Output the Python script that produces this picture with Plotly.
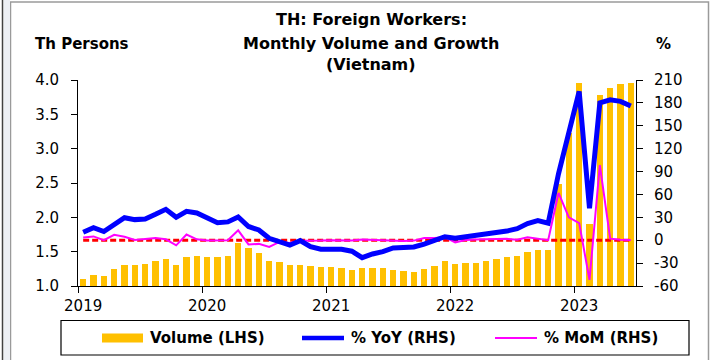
import plotly.graph_objects as go

# Monthly series, Jan 2019 - Jun 2023
months = [f"{y}-{m:02d}" for y in range(2019, 2024) for m in range(1, 13)][:54]

volume = [1.10, 1.16, 1.15, 1.25, 1.31, 1.30, 1.32, 1.37, 1.39, 1.31, 1.42, 1.44,
          1.42, 1.42, 1.44, 1.63, 1.55, 1.48, 1.37, 1.35, 1.31, 1.30, 1.29, 1.27,
          1.27, 1.26, 1.24, 1.26, 1.26, 1.26, 1.24, 1.22, 1.20, 1.25, 1.29, 1.37,
          1.32, 1.33, 1.34, 1.36, 1.39, 1.42, 1.44, 1.50, 1.52, 1.52, 2.48, 3.23,
          3.96, 1.90, 3.78, 3.89, 3.94, 3.95]

yoy = [10.5, 16.4, 11.4, 20.8, 29.5, 27.0, 27.8, 33.9, 40.5, 30.0, 37.9, 35.7,
       29.5, 23.0, 24.0, 30.5, 18.0, 13.4, 2.5, -2.6, -6.5, -0.5, -8.5, -11.8,
       -11.3, -11.8, -14.4, -22.9, -18.0, -15.0, -10.2, -9.8, -8.9, -5.0, -1.0, 4.6,
       2.5, 4.2, 6.8, 7.7, 9.4, 12.0, 15.2, 21.8, 25.6, 22.3, 87.0, 139.0,
       195.0, 42.0, 180.0, 184.0, 182.0, 176.0]

mom = [3.5, 5.0, 0.0, 7.0, 4.6, 0.3, 1.6, 2.9, 1.2, -6.7, 7.5, 1.2,
       -0.5, -0.5, 0.0, 13.0, -5.5, -4.8, -8.7, -2.2, -3.5, -0.8, -1.0, -0.5,
       0.0, -0.5, -0.5, 1.0, 0.3, 0.3, -1.0, -1.0, -0.5, 2.8, 2.8, 4.0,
       -2.8, 0.3, 0.8, 1.5, 1.6, 1.8, 0.5, 4.0, 2.2, 0.0, 62.0, 30.0,
       22.5, -52.0, 98.5, 2.0, 0.7, 0.3]

year_labels = ["2019", "2020", "2021", "2022", "2023"]
lhs_ticks = [1.0, 1.5, 2.0, 2.5, 3.0, 3.5, 4.0]
rhs_ticks = [-60, -30, 0, 30, 60, 90, 120, 150, 180, 210]

x = list(range(len(months)))
year_pos = [months.index(f"{y}-01") for y in year_labels]
year_bounds = [p - 0.5 for p in year_pos]

# plot-area geometry in pixels (used to place paper-referenced decorations)
W, H = 712, 360
L, R, T, B = 78, 76, 80, 74
PW, PH = W - L - R, H - T - B


def px(xp):
    return (xp - L) / PW


def py(yp):
    return (H - B - yp) / PH


GOLD = "#FFC000"
BLUE = "#0000FF"
MAGENTA = "#FF00FF"
RED = "#FF0000"
FONT = "DejaVu Sans"

fig = go.Figure()
fig.add_trace(go.Bar(x=x, y=volume, marker=dict(color=GOLD, line=dict(width=0)),
                     width=0.62, name="Volume (LHS)", yaxis="y"))
fig.add_trace(go.Scatter(x=[x[0], x[-1]], y=[0, 0], mode="lines", yaxis="y2",
                         line=dict(color=RED, width=3, dash="6px,3px"),
                         hoverinfo="skip", showlegend=False))
fig.add_trace(go.Scatter(x=x, y=mom, mode="lines", yaxis="y2", name="% MoM (RHS)",
                         line=dict(color=MAGENTA, width=2)))
fig.add_trace(go.Scatter(x=x, y=yoy, mode="lines", yaxis="y2", name="% YoY (RHS)",
                         line=dict(color=BLUE, width=5)))

axis_common = dict(showgrid=False, zeroline=False, showline=True, linecolor="#000000",
                   linewidth=1, tickcolor="#000000",
                   tickfont=dict(family=FONT, size=15, color="#000000"))

fig.update_layout(
    width=W, height=H,
    margin=dict(l=L, r=R, t=T, b=B, pad=0),
    paper_bgcolor="white", plot_bgcolor="white",
    showlegend=False, bargap=0,
    xaxis=dict(range=[-0.5, len(months) - 0.5], tickmode="array", tickvals=year_pos,
               ticktext=year_labels, ticks="", ticklabelstandoff=6,
               minor=dict(tickmode="array", tickvals=year_bounds, ticks="outside",
                          ticklen=6, tickcolor="#000000"),
               **axis_common),
    yaxis=dict(range=[1.0, 4.0], tickmode="array", tickvals=lhs_ticks,
               ticktext=[f"{v:.1f}" for v in lhs_ticks], ticks="outside", ticklen=6,
               ticklabelstandoff=9, **axis_common),
    yaxis2=dict(range=[-60, 210], overlaying="y", side="right", tickmode="array",
                tickvals=rhs_ticks, ticktext=[str(v) for v in rhs_ticks],
                ticks="outside", ticklen=6, ticklabelstandoff=8, **axis_common),
)

bold = dict(family=FONT, color="#000000", weight="bold")
ann = []
title_lines = [("TH: Foreign Workers:", 20), ("Monthly Volume and Growth", 43),
               ("(Vietnam)", 64)]
for text, yc in title_lines:
    ann.append(dict(text=text, x=px(371), y=py(yc), xref="paper", yref="paper",
                    xanchor="center", yanchor="middle", showarrow=False,
                    font=dict(size=16, **bold)))
ann.append(dict(text="Th Persons", x=px(81.5), y=py(44), xref="paper", yref="paper",
                xanchor="center", yanchor="middle", showarrow=False,
                font=dict(size=15, **bold)))
ann.append(dict(text="%", x=px(663.5), y=py(44), xref="paper", yref="paper",
                xanchor="center", yanchor="middle", showarrow=False,
                font=dict(size=15, **bold)))

# legend drawn as a framed row of swatches and labels
legend_items = [("Volume (LHS)", GOLD, "box", 102, 148),
                ("% YoY (RHS)", BLUE, 4.5, 302, 349),
                ("% MoM (RHS)", MAGENTA, 2, 495, 542)]
shapes = [dict(type="rect", xref="paper", yref="paper", x0=px(61), x1=px(689),
               y0=py(320.5), y1=py(355), line=dict(color="#000000", width=1.2),
               fillcolor="rgba(0,0,0,0)")]
leg_y = 338
for label, color, style, sx, tx in legend_items:
    if style == "box":
        shapes.append(dict(type="rect", xref="paper", yref="paper", x0=px(sx),
                           x1=px(sx + 41), y0=py(333.5), y1=py(342.5),
                           fillcolor=color, line=dict(width=0)))
    else:
        shapes.append(dict(type="line", xref="paper", yref="paper", x0=px(sx),
                           x1=px(sx + 42), y0=py(leg_y), y1=py(leg_y),
                           line=dict(color=color, width=style)))
    ann.append(dict(text=label, x=px(tx), y=py(leg_y), xref="paper", yref="paper",
                    xanchor="left", yanchor="middle", showarrow=False,
                    font=dict(size=15, **bold)))

# outer chart frame
shapes.append(dict(type="rect", xref="paper", yref="paper", x0=px(10.5), x1=px(708.5),
                   y0=py(2), y1=py(365), line=dict(color="#9a9a9a", width=1.5),
                   fillcolor="rgba(0,0,0,0)"))
shapes.append(dict(type="rect", xref="paper", yref="paper", x0=px(3.5), x1=px(10),
                   y0=py(0), y1=py(360), line=dict(width=0), fillcolor="#eceff4"))
shapes.append(dict(type="line", xref="paper", yref="paper", x0=px(2.5), x1=px(2.5),
                   y0=py(0), y1=py(360), line=dict(color="#404040", width=1.5)))

fig.update_layout(annotations=ann, shapes=shapes)
fig.write_html("out.html")
